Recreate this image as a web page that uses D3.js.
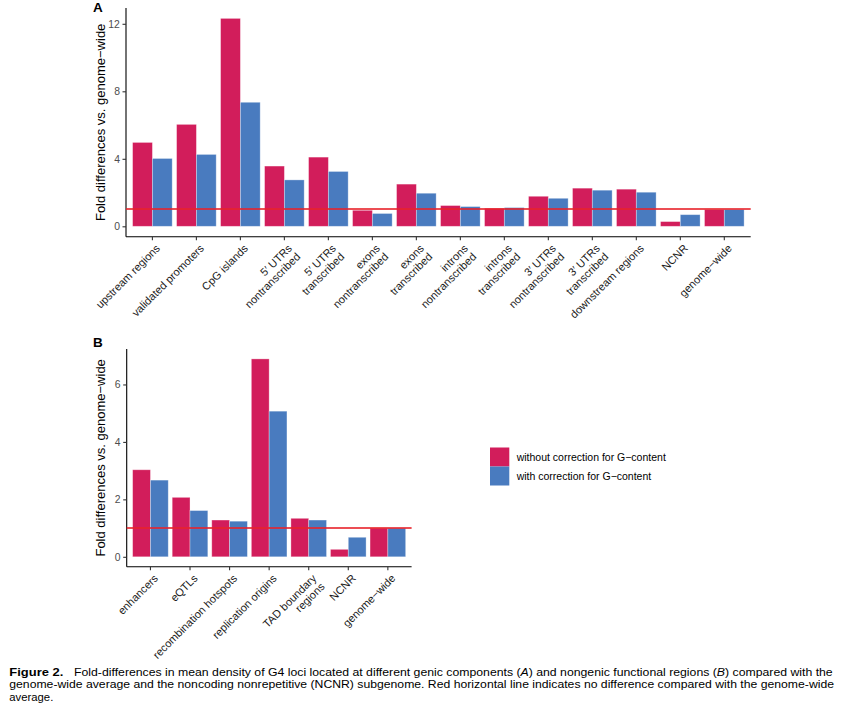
<!DOCTYPE html>
<html>
<head>
<meta charset="utf-8">
<script src="https://cdn.jsdelivr.net/npm/d3@7"></script>
<style>
  html, body { margin: 0; padding: 0; background: #fff; }
  svg { display: block; }
</style>
</head>
<body>
<svg id="chart" width="849" height="711"></svg>
<script>
// ---------------- DATA ----------------
const seriesNames = ["without correction for G\u2212content", "with correction for G\u2212content"];
const seriesColors = ["#D21D5B", "#497BBF"];

const categoriesA = [
  "upstream regions", "validated promoters", "CpG islands",
  "5\u2032 UTRs\nnontranscribed", "5\u2032 UTRs\ntranscribed",
  "exons\nnontranscribed", "exons\ntranscribed",
  "introns\nnontranscribed", "introns\ntranscribed",
  "3\u2032 UTRs\nnontranscribed", "3\u2032 UTRs\ntranscribed",
  "downstream regions", "NCNR", "genome\u2212wide"
];
const withoutA = [4.97, 6.04, 12.32, 3.57, 4.10, 0.95, 2.50, 1.23, 1.07, 1.78, 2.26, 2.20, 0.28, 1.00];
const withA    = [4.02, 4.26, 7.35, 2.75, 3.25, 0.76, 1.96, 1.17, 1.11, 1.66, 2.14, 2.02, 0.69, 1.00];
const ticksA = [0, 4, 8, 12];

const categoriesB = [
  "enhancers", "eQTLs", "recombination hotspots", "replication origins",
  "TAD boundary\nregions", "NCNR", "genome\u2212wide"
];
const withoutB = [3.03, 2.07, 1.28, 6.89, 1.34, 0.26, 1.00];
const withB    = [2.67, 1.61, 1.24, 5.07, 1.28, 0.68, 1.00];
const ticksB = [0, 2, 4, 6];

const referenceValue = 1;
const yTitle = "Fold differences vs. genome\u2212wide";

// ---------------- DRAW ----------------
const FONT = "'Liberation Sans', Arial, Helvetica, sans-serif";
const svg = d3.select("#chart");
svg.append("rect").attr("width", 849).attr("height", 711).attr("fill", "#fff");
const refLines = [];

function panel(opts) {
  const { cats, s1, s2, ticks, left, right, top, bottom, letter, letterY } = opts;
  const g = svg.append("g");
  const x = d3.scaleBand().domain(cats).range([left, right])
    .paddingInner(0.1).paddingOuter(0.15);
  const xs = d3.scaleBand().domain([0, 1]).range([0, x.bandwidth()]).padding(0);
  const yMax = d3.max(s1.concat(s2));
  const y = d3.scaleLinear().domain([-0.05 * yMax, 1.05 * yMax]).range([bottom, top]);

  const rows = cats.map((c, i) => ({ c, v: [s1[i], s2[i]] }));
  const bars = g.append("g");
  const grp = bars.selectAll("g").data(rows).join("g")
    .attr("transform", d => `translate(${x(d.c)},0)`);
  grp.selectAll("rect").data(d => d.v.map((v, k) => ({ v, k }))).join("rect")
    .attr("x", d => xs(d.k))
    .attr("width", xs.bandwidth())
    .attr("y", d => y(d.v))
    .attr("height", d => y(0) - y(d.v))
    .attr("fill", d => seriesColors[d.k])
    .attr("stroke", "#ffffff")
    .attr("stroke-opacity", 0.4)
    .attr("stroke-width", 0.8);

  // y axis
  const ya = g.append("g").attr("transform", `translate(${left},0)`)
    .call(d3.axisLeft(y).tickValues(ticks).tickSize(3.5).tickSizeOuter(0).tickPadding(2.6));
  ya.select(".domain").attr("stroke", "#000").attr("stroke-width", 1.1)
    .attr("d", `M0,${top}V${bottom}`);
  ya.selectAll(".tick line").attr("stroke", "#333").attr("stroke-width", 1.1);
  ya.selectAll(".tick text").attr("fill", "#4d4d4d")
    .style("font-family", FONT).style("font-size", "10.4px");

  // x axis
  const xa = g.append("g").attr("transform", `translate(0,${bottom})`)
    .call(d3.axisBottom(x).tickSize(3.5).tickSizeOuter(0).tickFormat(""));
  xa.select(".domain").attr("stroke", "#000").attr("stroke-width", 1.1)
    .attr("d", `M${left},0H${right}`);
  xa.selectAll(".tick line").attr("stroke", "#333").attr("stroke-width", 1.1);

  refLines.push({ x1: left, x2: right, y: y(referenceValue) });

  // rotated x labels
  const lab = g.append("g").selectAll("g").data(cats).join("g")
    .attr("transform", c => `translate(${x(c) + x.bandwidth() / 2 + 2.5},${bottom + 6.5}) rotate(-45)`);
  lab.each(function (c) {
    const lines = c.split("\n");
    const t = d3.select(this).append("text")
      .attr("text-anchor", "end")
      .attr("fill", "#1a1a1a")
      .style("font-family", FONT)
      .style("font-size", "11px");
    lines.forEach((ln, i) => {
      t.append("tspan").attr("x", 0).attr("y", 8.2 + i * 11.8).text(ln);
    });
  });

  // y title
  g.append("text")
    .attr("transform", `translate(105,${(top + bottom) / 2}) rotate(-90)`)
    .attr("text-anchor", "middle")
    .attr("fill", "#000")
    .style("font-family", FONT)
    .style("font-size", "13px")
    .text(yTitle);

  // panel letter
  g.append("text")
    .attr("x", 93).attr("y", letterY)
    .attr("fill", "#000")
    .style("font-family", FONT)
    .style("font-weight", "bold")
    .style("font-size", "13.5px")
    .text(letter);
}

panel({ cats: categoriesA, s1: withoutA, s2: withA, ticks: ticksA,
        left: 126, right: 750.7, top: 8, bottom: 236.7, letter: "A", letterY: 11.8 });
panel({ cats: categoriesB, s1: withoutB, s2: withB, ticks: ticksB,
        left: 126.7, right: 411.6, top: 349, bottom: 566.7, letter: "B", letterY: 347.3 });

// legend
const leg = svg.append("g").attr("transform", "translate(490,447.5)");
seriesNames.forEach((name, i) => {
  leg.append("rect").attr("x", 0).attr("y", i * 19).attr("width", 19.3).attr("height", 19)
    .attr("fill", seriesColors[i]);
  leg.append("text").attr("x", 26.7).attr("y", i * 19 + 9.5).attr("dy", "0.36em")
    .attr("fill", "#000")
    .style("font-family", FONT)
    .style("font-size", "10.5px")
    .text(name);
});

// caption
const cap = svg.append("g").style("font-family", FONT).style("font-size", "11px").attr("fill", "#000");
cap.append("text").attr("x", 9.3).attr("y", 675.7)
  .style("font-weight", "bold")
  .attr("textLength", 54).attr("lengthAdjust", "spacingAndGlyphs")
  .text("Figure 2.");
const l1 = cap.append("text").attr("x", 74).attr("y", 675.7)
  .attr("textLength", 758.7).attr("lengthAdjust", "spacingAndGlyphs");
l1.append("tspan").text("Fold-differences in mean density of G4 loci located at different genic components (");
l1.append("tspan").style("font-style", "italic").text("A");
l1.append("tspan").text(") and nongenic functional regions (");
l1.append("tspan").style("font-style", "italic").text("B");
l1.append("tspan").text(") compared with the");
cap.append("text").attr("x", 9.3).attr("y", 688.4)
  .attr("textLength", 824.7).attr("lengthAdjust", "spacingAndGlyphs")
  .text("genome-wide average and the noncoding nonrepetitive (NCNR) subgenome. Red horizontal line indicates no difference compared with the genome-wide");
cap.append("text").attr("x", 9.3).attr("y", 701.1)
  .attr("textLength", 44).attr("lengthAdjust", "spacingAndGlyphs")
  .text("average.");

// reference lines drawn last, on top of everything
svg.append("g").selectAll("rect").data(refLines).join("rect")
  .attr("x", d => d.x1)
  .attr("width", d => d.x2 - d.x1)
  .attr("y", d => Math.round(d.y) - 0.8)
  .attr("height", 1.6)
  .attr("fill", "#E8232B");
</script>
</body>
</html>
